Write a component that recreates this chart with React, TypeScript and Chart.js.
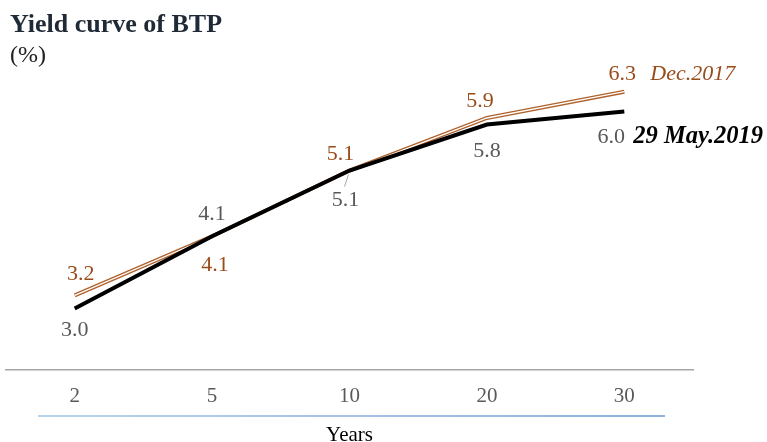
import React, { useEffect, useRef } from "react";
import { Chart, registerables } from "chart.js";

Chart.register(...registerables);

const CATEGORIES = ["2", "5", "10", "20", "30"];
const MAY_2019 = [3.0, 4.1, 5.1, 5.8, 6.0];
const DEC_2017 = [3.2, 4.1, 5.1, 5.9, 6.3];
const SERIES_NAMES = ["29 May.2019", "Dec.2017"];
const X_TITLE = "Years";
const CHART_TITLE = "Yield curve of BTP";
const UNIT = "(%)";

// label placement (style only): [dx, dy-baseline]
const MAY_LABEL_OFFSETS = [[0, 27], [0, -16], [-4, 35], [0, 32], [-13, 32]];
const DEC_LABEL_OFFSETS = [[6, -15], [3, 35], [-9, -11], [-7, -11], [-2, -12]];

const SERIF = "'Liberation Serif', 'Times New Roman', serif";
const GRAY = "#595959";
const ORANGE_TEXT = "#9a4b1a";
const ORANGE_LINE = "#b0622c";

const labelsPlugin = {
  id: "customLabels",
  afterDatasetsDraw(chart: any) {
    const ctx = chart.ctx;
    ctx.save();
    ctx.textBaseline = "alphabetic";
    ctx.textAlign = "center";
    const m0 = chart.getDatasetMeta(0);
    ctx.font = `22px ${SERIF}`;
    ctx.fillStyle = GRAY;
    m0.data.forEach((pt: any, i: number) => {
      const [dx, dy] = MAY_LABEL_OFFSETS[i];
      ctx.fillText(MAY_2019[i].toFixed(1), pt.x + dx, pt.y + dy);
    });
    const p2 = m0.data[2];
    ctx.strokeStyle = "#a6a6a6";
    ctx.lineWidth = 1;
    ctx.beginPath();
    ctx.moveTo(p2.x - 1, p2.y + 4);
    ctx.lineTo(p2.x - 5, p2.y + 16);
    ctx.stroke();
    const lastM = m0.data[m0.data.length - 1];
    ctx.textAlign = "left";
    ctx.fillStyle = "#000000";
    ctx.font = `italic bold 24.5px ${SERIF}`;
    ctx.fillText(SERIES_NAMES[0], lastM.x + 9, lastM.y + 32);

    const m2 = chart.getDatasetMeta(2);
    ctx.textAlign = "center";
    ctx.font = `22px ${SERIF}`;
    ctx.fillStyle = ORANGE_TEXT;
    m2.data.forEach((pt: any, i: number) => {
      const [dx, dy] = DEC_LABEL_OFFSETS[i];
      ctx.fillText(DEC_2017[i].toFixed(1), pt.x + dx, pt.y + dy);
    });
    const lastD = m2.data[m2.data.length - 1];
    ctx.textAlign = "left";
    ctx.font = `italic 22px ${SERIF}`;
    ctx.fillText(SERIES_NAMES[1], lastD.x + 26, lastD.y - 12);

    const { left, right } = chart.chartArea;
    const y = 416;
    const g = ctx.createLinearGradient(left + 32, 0, right - 28, 0);
    g.addColorStop(0, "#b8d3ee");
    g.addColorStop(1, "#8db3dc");
    ctx.strokeStyle = g;
    ctx.lineWidth = 2;
    ctx.beginPath();
    ctx.moveTo(left + 32, y);
    ctx.lineTo(right - 28, y);
    ctx.stroke();
    ctx.restore();
  },
};

export default function App() {
  const ref = useRef<HTMLCanvasElement>(null);
  useEffect(() => {
    if (!ref.current) return;
    const chart = new Chart(ref.current, {
      type: "line",
      data: {
        labels: CATEGORIES,
        datasets: [
          {
            label: SERIES_NAMES[0],
            data: MAY_2019,
            borderColor: "#000000",
            borderWidth: 4,
            pointRadius: 0,
            tension: 0,
          },
          {
            label: SERIES_NAMES[1] + " inner",
            data: DEC_2017,
            borderColor: "#ffffff",
            borderWidth: 1.3,
            pointRadius: 0,
            tension: 0,
          },
          {
            label: SERIES_NAMES[1],
            data: DEC_2017,
            borderColor: ORANGE_LINE,
            borderWidth: 4,
            pointRadius: 0,
            tension: 0,
          },
        ],
      },
      options: {
        responsive: false,
        animation: false,
        layout: { padding: { top: 72, left: 6, right: 74, bottom: 0 } },
        plugins: {
          legend: { display: false },
          tooltip: { enabled: false },
          title: { display: false },
        },
        scales: {
          x: {
            offset: true,
            grid: { display: false, drawTicks: false },
            border: { display: true, color: "#a6a6a6", width: 1.5 },
            ticks: {
              color: GRAY,
              font: { family: SERIF, size: 21 },
              padding: 14,
            },
            title: {
              display: true,
              text: X_TITLE,
              color: "#000000",
              font: { family: SERIF, size: 21 },
              padding: { top: 0, bottom: 0 },
            },
          },
          y: {
            display: false,
            min: 2.07,
            max: 6.6,
          },
        },
      },
      plugins: [labelsPlugin],
    });
    return () => chart.destroy();
  }, []);

  return (
    <div style={{ position: "fixed", left: 0, top: 0, width: 767, height: 442, background: "#fff", overflow: "hidden" }}>
      <canvas ref={ref} width={767} height={448} style={{ position: "absolute", left: 0, top: 0 }} />
      <div
        style={{
          position: "absolute",
          left: 10,
          top: 11,
          font: `bold 26px/26px ${SERIF}`,
          color: "#1f2a36",
          whiteSpace: "nowrap",
        }}
      >
        {CHART_TITLE}
      </div>
      <div
        style={{
          position: "absolute",
          left: 10,
          top: 42,
          font: `24px/24px ${SERIF}`,
          color: "#222",
          whiteSpace: "nowrap",
        }}
      >
        {UNIT}
      </div>
    </div>
  );
}
